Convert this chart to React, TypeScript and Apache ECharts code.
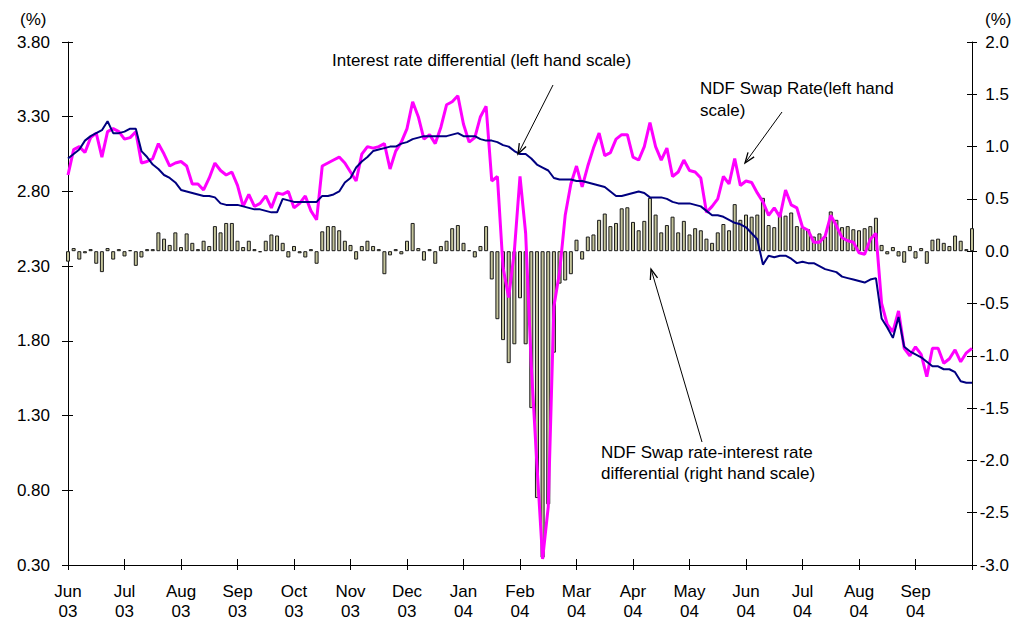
import React, { useEffect, useRef } from "react";
import * as echarts from "echarts";

const monthLabels = ["Jun", "Jul", "Aug", "Sep", "Oct", "Nov", "Dec", "Jan", "Feb", "Mar", "Apr", "May", "Jun", "Jul", "Aug", "Sep"];
const yearLabels = ["03", "03", "03", "03", "03", "03", "03", "04", "04", "04", "04", "04", "04", "04", "04", "04"];
const pointsPerMonth = 10;

// NDF swap rate (left hand scale, %)
const ndfSwapRate = [
  2.91, 3.08, 3.10, 3.06, 3.16, 3.19, 3.03, 3.20, 3.22, 3.20,
  3.15, 3.16, 3.20, 2.99, 3.00, 3.02, 3.12, 3.05, 2.97, 2.99,
  3.00, 2.97, 2.85, 2.85, 2.81, 2.89, 2.99, 2.94, 2.91, 2.93,
  2.84, 2.70, 2.78, 2.70, 2.72, 2.77, 2.69, 2.79, 2.78, 2.80,
  2.69, 2.72, 2.77, 2.67, 2.61, 2.97, 2.99, 3.01, 3.03, 2.99,
  2.93, 2.87, 3.05, 3.10, 3.09, 3.10, 3.12, 2.95, 3.07, 3.13,
  3.22, 3.40, 3.30, 3.15, 3.18, 3.12, 3.23, 3.38, 3.40, 3.44,
  3.25, 3.13, 3.16, 3.30, 3.37, 2.87, 2.90, 2.29, 2.09, 2.40,
  2.90, 2.52, 1.63, 0.97, 0.34, 0.69, 2.03, 2.26, 2.64, 2.85,
  2.97, 2.83, 2.97, 3.09, 3.19, 3.04, 3.06, 3.15, 3.18, 3.18,
  3.03, 3.01, 3.10, 3.26, 3.10, 3.01, 3.09, 2.90, 2.93, 3.01,
  2.94, 2.93, 2.89, 2.66, 2.70, 2.75, 2.90, 2.85, 3.02, 2.84,
  2.87, 2.86, 2.79, 2.73, 2.64, 2.69, 2.63, 2.81, 2.71, 2.69,
  2.56, 2.54, 2.46, 2.46, 2.50, 2.64, 2.57, 2.49, 2.47, 2.46,
  2.39, 2.38, 2.48, 2.52, 2.05, 1.91, 1.86, 2.00, 1.75, 1.70,
  1.76, 1.71, 1.56, 1.75, 1.75, 1.65, 1.68, 1.74, 1.66, 1.72,
  1.75,
];

// Interest rate differential (left hand scale, %)
const interestDiff = [
  3.02, 3.05, 3.08, 3.14, 3.17, 3.19, 3.21, 3.27, 3.19, 3.19,
  3.20, 3.22, 3.22, 3.07, 3.03, 2.98, 2.95, 2.91, 2.89, 2.86,
  2.81, 2.80, 2.79, 2.78, 2.77, 2.77, 2.76, 2.72, 2.71, 2.71,
  2.71, 2.70, 2.69, 2.68, 2.68, 2.67, 2.66, 2.66, 2.75, 2.74,
  2.73, 2.73, 2.73, 2.73, 2.73, 2.77, 2.77, 2.78, 2.80, 2.86,
  2.89, 2.96, 3.00, 3.03, 3.07, 3.08, 3.09, 3.10, 3.10, 3.12,
  3.13, 3.15, 3.16, 3.17, 3.17, 3.17, 3.17, 3.17, 3.18, 3.19,
  3.17, 3.17, 3.17, 3.15, 3.14, 3.14, 3.13, 3.11, 3.10, 3.07,
  3.05, 3.05, 3.02, 2.98, 2.96, 2.94, 2.89, 2.88, 2.88, 2.88,
  2.87, 2.87, 2.86, 2.85, 2.84, 2.83, 2.80, 2.77, 2.77, 2.78,
  2.79, 2.80, 2.79, 2.76, 2.76, 2.76, 2.75, 2.73, 2.72, 2.72,
  2.72, 2.71, 2.70, 2.67, 2.64, 2.64, 2.63, 2.61, 2.59, 2.58,
  2.56, 2.52, 2.48, 2.31, 2.37, 2.36, 2.37, 2.37, 2.35, 2.32,
  2.33, 2.32, 2.32, 2.30, 2.28, 2.27, 2.26, 2.23, 2.22, 2.21,
  2.20, 2.19, 2.21, 2.22, 1.95, 1.89, 1.82, 1.96, 1.76, 1.73,
  1.71, 1.69, 1.66, 1.63, 1.63, 1.61, 1.61, 1.59, 1.53, 1.52,
  1.52,
];

// NDF swap rate - interest rate differential (right hand scale, %)
const spread = [
  -0.10, 0.03, -0.08, -0.02, 0.02, -0.12, -0.20, 0.03, -0.08, 0.02,
  -0.05, 0.01, -0.14, -0.06, 0.02, 0.02, 0.18, 0.12, 0.06, 0.18,
  0.04, 0.17, 0.08, 0.02, 0.10, 0.05, 0.24, 0.18, 0.27, 0.27,
  0.10, 0.04, 0.10, 0.02, -0.01, 0.10, 0.16, 0.15, 0.08, -0.06,
  0.05, -0.02, -0.06, 0.02, -0.12, 0.19, 0.24, 0.24, 0.20, 0.10,
  0.06, -0.08, 0.05, 0.10, 0.05, 0.02, -0.22, -0.04, 0.02, -0.03,
  0.10, 0.27, 0.03, -0.09, 0.02, -0.12, 0.05, 0.10, 0.22, 0.25,
  0.08, 0.01, -0.06, 0.05, 0.24, -0.27, -0.65, -0.85, -1.07, -0.89,
  -0.45, -0.89, -1.50, -2.36, -2.93, -2.42, -0.97, -0.31, -0.28, -0.22,
  0.11, -0.08, 0.14, 0.16, 0.30, 0.36, 0.24, 0.27, 0.41, 0.42,
  0.28, 0.20, 0.29, 0.51, 0.35, 0.18, 0.25, 0.33, 0.18, 0.29,
  0.16, 0.22, 0.20, 0.12, 0.08, 0.18, 0.26, 0.20, 0.45, 0.30,
  0.35, 0.33, 0.35, 0.51, 0.25, 0.23, 0.37, 0.34, 0.37, 0.24,
  0.23, 0.21, 0.14, 0.17, 0.14, 0.38, 0.30, 0.23, 0.24, 0.21,
  0.20, 0.22, 0.24, 0.32, 0.06, -0.03, 0.04, -0.05, -0.11, 0.05,
  -0.07, 0.03, -0.12, 0.11, 0.12, 0.08, 0.05, 0.15, 0.10, 0.02,
  0.22,
];

const FONT = '"Liberation Sans", Arial, sans-serif';
const lastIndex = monthLabels.length * pointsPerMonth;

function arrow(x1: number, y1: number, x2: number, y2: number) {
  const ang = Math.atan2(y2 - y1, x2 - x1);
  const L = 11;
  const a = 0.35;
  const p1 = [x2 - L * Math.cos(ang - a), y2 - L * Math.sin(ang - a)];
  const p2 = [x2 - L * Math.cos(ang + a), y2 - L * Math.sin(ang + a)];
  return [
    { type: "line", z: 100, shape: { x1, y1, x2, y2 }, style: { stroke: "#000", lineWidth: 1 } },
    { type: "polyline", z: 100, shape: { points: [p1, [x2, y2], p2] }, style: { stroke: "#000", lineWidth: 1.3, fill: null } },
  ];
}

function txt(x: number, y: number, text: string, align = "left") {
  return {
    type: "text",
    z: 100,
    x,
    y,
    style: { text, fontSize: 17, fontFamily: FONT, fill: "#000", textAlign: align, textVerticalAlign: "middle" },
  };
}

export default function App() {
  const ref = useRef<HTMLDivElement>(null);
  useEffect(() => {
    if (!ref.current) return;
    const chart = echarts.init(ref.current, null, { renderer: "svg" });
    const tickStyle = { color: "#000", width: 1 };
    const xLabel = (v: number) => {
      const k = Math.round(v / pointsPerMonth);
      return k < monthLabels.length ? monthLabels[k] + "\n" + yearLabels[k] : "";
    };
    const option: any = {
      animation: false,
      textStyle: { fontFamily: FONT },
      grid: { left: 68, right: 43, top: 42, bottom: 50, containLabel: false },
      xAxis: [
        {
          type: "value", min: 0, max: lastIndex, interval: pointsPerMonth,
          axisLine: { onZero: false, lineStyle: tickStyle },
          axisTick: { length: 5, lineStyle: tickStyle },
          splitLine: { show: false },
          axisLabel: { formatter: xLabel, fontSize: 17, color: "#000", lineHeight: 20, margin: 16, fontFamily: FONT, showMaxLabel: true },
        },
        {
          type: "value", min: 0, max: lastIndex, interval: pointsPerMonth, position: "bottom",
          axisLine: { show: false, onZero: false },
          axisTick: { inside: true, length: 6, lineStyle: tickStyle },
          splitLine: { show: false },
          axisLabel: { show: false },
        },
      ],
      yAxis: [
        {
          type: "value", min: 0.3, max: 3.8, interval: 0.5, position: "left",
          axisLine: { show: true, onZero: false, lineStyle: tickStyle },
          axisTick: { show: true, length: 6, lineStyle: tickStyle },
          splitLine: { show: false },
          axisLabel: { formatter: (v: number) => v.toFixed(2), fontSize: 17, color: "#000", margin: 18, fontFamily: FONT },
        },
        {
          type: "value", min: -3, max: 2, interval: 0.5, position: "right",
          axisLine: { show: true, onZero: false, lineStyle: tickStyle },
          axisTick: { show: true, length: 5, lineStyle: tickStyle },
          splitLine: { show: false },
          axisLabel: { formatter: (v: number) => v.toFixed(1), fontSize: 17, color: "#000", margin: 37, align: "right", fontFamily: FONT },
        },
        {
          type: "value", min: 0.3, max: 3.8, interval: 0.5, position: "left",
          axisLine: { show: false, onZero: false },
          axisTick: { show: true, inside: true, length: 5, lineStyle: tickStyle },
          splitLine: { show: false },
          axisLabel: { show: false },
        },
        {
          type: "value", min: -3, max: 2, interval: 0.5, position: "right",
          axisLine: { show: false, onZero: false },
          axisTick: { show: true, inside: true, length: 5, lineStyle: tickStyle },
          splitLine: { show: false },
          axisLabel: { show: false },
        },
      ],
      series: [
        {
          name: "NDF Swap rate-interest rate differential",
          type: "bar", xAxisIndex: 0, yAxisIndex: 1,
          barWidth: 4,
          data: spread.map((v, i) => [i, v]),
          itemStyle: { color: "#C4C49A", borderColor: "#1a1a1a", borderWidth: 1 },
          z: 2,
        },
        {
          name: "NDF Swap Rate",
          type: "line", xAxisIndex: 0, yAxisIndex: 0,
          data: ndfSwapRate.map((v, i) => [i, v]),
          showSymbol: false, symbol: "none",
          lineStyle: { color: "#FF00FF", width: 3 },
          z: 3,
        },
        {
          name: "Interest rate differential",
          type: "line", xAxisIndex: 0, yAxisIndex: 0,
          data: interestDiff.map((v, i) => [i, v]),
          showSymbol: false, symbol: "none",
          lineStyle: { color: "#000080", width: 2 },
          z: 4,
        },
      ],
      graphic: [
        txt(20, 19, "(%)"),
        txt(985, 19, "(%)"),
        txt(332, 60, "Interest rate differential (left hand scale)"),
        txt(700, 88, "NDF Swap Rate(left hand"),
        txt(700, 110, "scale)"),
        txt(601, 452, "NDF Swap rate-interest rate"),
        txt(601, 473, "differential (right hand scale)"),
        ...arrow(553, 85, 518, 154),
        ...arrow(782, 112, 745, 163),
        ...arrow(702, 442, 651, 269),
      ],
    };
    chart.setOption(option);
    return () => chart.dispose();
  }, []);
  return (
    <div
      ref={ref}
      style={{ position: "fixed", left: 0, top: 0, width: 1015, height: 621, background: "#fff" }}
    />
  );
}
